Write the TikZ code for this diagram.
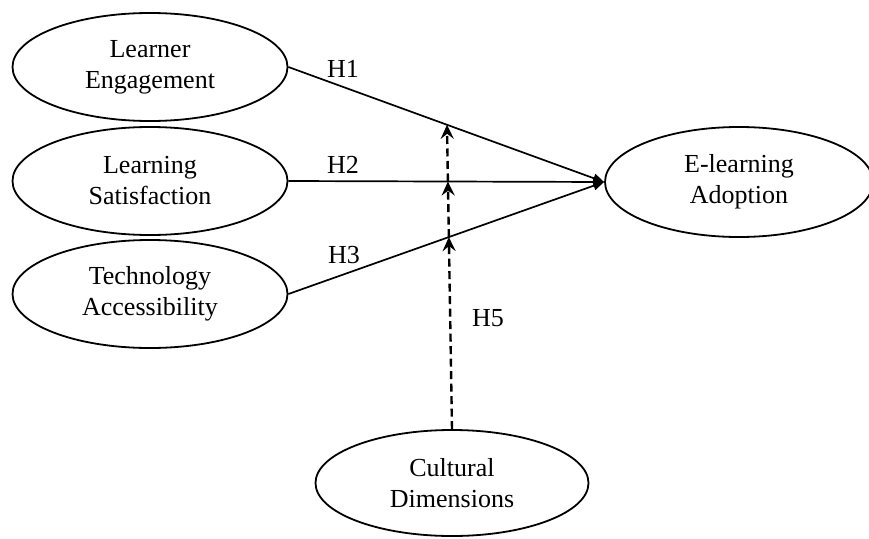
\documentclass[tikz,border=0pt]{standalone}
\usepackage{fontspec}
\setmainfont{Liberation Serif}
\usetikzlibrary{shapes.geometric,arrows.meta}
\tikzset{
  construct/.style={ellipse, draw, line width=1.8pt, inner sep=0pt, align=center,
    minimum width=275pt, minimum height=108pt, font=\fontsize{26}{31}\selectfont},
  path/.style={line width=1.7pt, -{Triangle[length=11pt,width=9pt]}},
  moder/.style={line width=2.4pt, dash pattern=on 8pt off 4.5pt, -{Stealth[length=14pt,width=13pt,inset=5pt]}},
  hlabel/.style={font=\fontsize{26}{30}\selectfont, inner sep=0pt}
}
\begin{document}
\begin{tikzpicture}[x=1pt,y=-1pt]
\useasboundingbox (0,0) rectangle (869,538);
\node[construct] (LE) at (150,67) {Learner\\Engagement};
\node[construct] (LS) at (150,181) {Learning\\Satisfaction};
\node[construct] (TA) at (150,294) {Technology\\Accessibility};
\node[construct, minimum width=268pt, minimum height=110pt] (EA) at (739,182) {E-learning\\Adoption};
\node[construct, minimum width=273pt, minimum height=106pt] (CD) at (452,483) {Cultural\\Dimensions};
\draw[path] (LE.east) -- (EA.west);
\draw[path] (LS.east) -- (EA.west);
\draw[path] (TA.east) -- (EA.west);
\coordinate (dtop) at (447,125);
\coordinate (m1) at (intersection cs: first line={(LE.east)--(EA.west)}, second line={(CD.north)--(dtop)});
\coordinate (m2) at (intersection cs: first line={(LS.east)--(EA.west)}, second line={(CD.north)--(dtop)});
\coordinate (m3) at (intersection cs: first line={(TA.east)--(EA.west)}, second line={(CD.north)--(dtop)});
\draw[moder] (CD.north) -- (m3);
\draw[moder] (m3) -- (m2);
\draw[moder] (m2) -- (m1);
\node[hlabel] (h1) at (343,69) {H1};
\node[hlabel] (h2) at (343,165) {H2};
\node[hlabel] (h3) at (344,255) {H3};
\node[hlabel] (h5) at (488,318) {H5};
\end{tikzpicture}
\end{document}
